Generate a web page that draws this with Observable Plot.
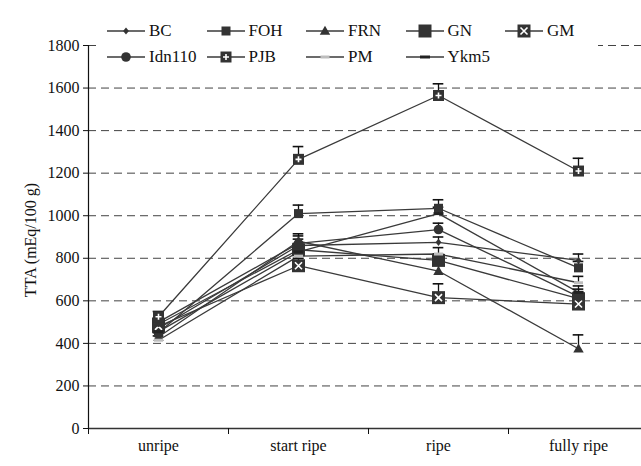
<!DOCTYPE html>
<html>
<head>
<meta charset="utf-8">
<script src="https://cdn.jsdelivr.net/npm/d3@7"></script>
<script src="https://cdn.jsdelivr.net/npm/@observablehq/plot@0.6"></script>
<style>
  body { margin: 0; background: #fff; }
  #wrap { position: relative; width: 641px; height: 466px; font-family: 'Liberation Serif', serif; }
  #wrap svg, #wrap svg text { font-family: 'Liberation Serif', serif !important; }
  #legend { position: absolute; left: 98px; top: 19px; width: 500px; height: 50px; background: #fff; }
  .item { position: absolute; display: flex; align-items: center; font-family: 'Liberation Serif', serif; font-size: 17px; color: #111; white-space: nowrap; }
  .item svg { display: block; margin-right: 3px; }
  #ylabel { position: absolute; left: 31px; top: 240px; font-family: 'Liberation Serif', serif; font-size: 16px; color: #111;
            transform: translate(-50%, -50%) rotate(-90deg); white-space: nowrap; }
</style>
</head>
<body>
<div id="wrap"><div id="legend"></div><div id="ylabel">TTA (mEq/100 g)</div></div>
<script>
// Ripening stages on the x axis
const stages = ["unripe", "start ripe", "ripe", "fully ripe"];
const cultivars = ["BC", "FOH", "FRN", "GN", "GM", "Idn110", "PJB", "PM", "Ykm5"];

// Titratable acidity (mEq/100 g) per cultivar, one value per stage
const ttaBC     = [470, 860, 875, 790];
const ttaFOH    = [450, 1010, 1035, 755];
const ttaFRN    = [430, 880, 740, 375];
const ttaGN     = [490, 840, 790, 610];
const ttaGM     = [480, 765, 615, 585];
const ttaIdn110 = [500, 870, 935, 620];
const ttaPJB    = [525, 1265, 1565, 1210];
const ttaPM     = [415, 810, 820, 685];
const ttaYkm5   = [455, 830, 1010, 640];

// Standard errors (upper whiskers)
const errBC     = [20, 30, 25, 30];
const errFOH    = [20, 40, 40, 30];
const errFRN    = [20, 35, 30, 65];
const errGN     = [20, 30, 30, 30];
const errGM     = [20, 35, 65, 30];
const errIdn110 = [20, 35, 30, 35];
const errPJB    = [25, 60, 55, 60];
const errPM     = [20, 30, 30, 30];
const errYkm5   = [20, 30, 30, 30];

const yTicks = [0, 200, 400, 600, 800, 1000, 1200, 1400, 1600, 1800];

const values = {BC: ttaBC, FOH: ttaFOH, FRN: ttaFRN, GN: ttaGN, GM: ttaGM, Idn110: ttaIdn110, PJB: ttaPJB, PM: ttaPM, Ykm5: ttaYkm5};
const errors = {BC: errBC, FOH: errFOH, FRN: errFRN, GN: errGN, GM: errGM, Idn110: errIdn110, PJB: errPJB, PM: errPM, Ykm5: errYkm5};

const data = cultivars.flatMap(c => stages.map((s, i) => ({
  cultivar: c, stage: s, x: i + 0.5, tta: values[c][i], top: values[c][i] + errors[c][i]
})));

// Marker shapes
const rectSym = (w, h) => ({draw(ctx) { ctx.rect(-w / 2, -h / 2, w, h); }});
const diamondSym = s => ({draw(ctx) { ctx.moveTo(0, -s); ctx.lineTo(s * 0.8, 0); ctx.lineTo(0, s); ctx.lineTo(-s * 0.8, 0); ctx.closePath(); }});
const triSym = s => ({draw(ctx) { ctx.moveTo(0, -s * 0.95); ctx.lineTo(s * 0.95, s * 0.7); ctx.lineTo(-s * 0.95, s * 0.7); ctx.closePath(); }});
const circSym = r => ({draw(ctx) { ctx.moveTo(r, 0); ctx.arc(0, 0, r, 0, 2 * Math.PI); }});
const crossSym = s => ({draw(ctx) { ctx.moveTo(-s, -s); ctx.lineTo(s, s); ctx.moveTo(s, -s); ctx.lineTo(-s, s); }});
const plusSym = s => ({draw(ctx) { ctx.moveTo(-s, 0); ctx.lineTo(s, 0); ctx.moveTo(0, -s); ctx.lineTo(0, s); }});

const ink = "#333";
const style = {
  BC:     [{symbol: diamondSym(3.6), fill: ink}],
  FOH:    [{symbol: rectSym(9, 9), fill: ink}],
  FRN:    [{symbol: triSym(5.5), fill: ink}],
  GN:     [{symbol: rectSym(13, 13), fill: ink}],
  GM:     [{symbol: rectSym(13, 13), fill: ink}, {symbol: crossSym(3.5), stroke: "#fff", strokeWidth: 1.6}],
  Idn110: [{symbol: circSym(4.8), fill: ink}],
  PJB:    [{symbol: rectSym(11, 11), fill: ink}, {symbol: plusSym(3), stroke: "#fff", strokeWidth: 1.6}],
  PM:     [{symbol: rectSym(9, 3), fill: "#bdbdbd"}],
  Ykm5:   [{symbol: rectSym(10, 3), fill: "#222"}]
};

const markerMarks = cultivars.flatMap(c => style[c].map(st =>
  Plot.dot(data.filter(d => d.cultivar === c), {x: "x", y: "tta", r: 5, ...st})
));

const chart = Plot.plot({
  width: 641,
  height: 466,
  marginLeft: 88,
  marginRight: 0,
  marginTop: 45,
  marginBottom: 38,
  style: {fontFamily: "'Liberation Serif', serif", fontSize: "16px", color: "#111", background: "#fff"},
  x: {domain: [0, 4], range: [88, 648]},
  y: {domain: [0, 1800], range: [428, 45]},
  marks: [
    // dashed gridlines
    Plot.ruleY(yTicks.filter(v => v > 0), {stroke: "#222", strokeWidth: 1, strokeDasharray: "8,5", strokeOpacity: 0.85}),
    // axes
    Plot.axisY({ticks: yTicks, tickSize: 5, tickPadding: 4, fontSize: 16, label: null, tickFormat: d => String(d)}),
    Plot.ruleX([0], {y1: 0, y2: 1800, stroke: "#111", strokeWidth: 1.2}),
    Plot.ruleY([0], {stroke: "#333", strokeWidth: 1.6}),
    Plot.axisX({ticks: [0, 1, 2, 3], tickSize: 6, tickFormat: () => "", label: null}),
    Plot.axisX({ticks: [0.5, 1.5, 2.5, 3.5], tickSize: 0, tickPadding: 11, fontSize: 16, label: null, tickFormat: d => stages[Math.floor(d)]}),
    // series lines
    Plot.line(data, {x: "x", y: "tta", z: "cultivar", stroke: "#3a3a3a", strokeWidth: 1.3}),
    // upper error whiskers
    Plot.ruleX(data, {x: "x", y1: "tta", y2: "top", stroke: "#111", strokeWidth: 1.3}),
    Plot.ruleY(data, {y: "top", x1: d => d.x - 0.038, x2: d => d.x + 0.038, stroke: "#111", strokeWidth: 1.6}),
    ...markerMarks
  ]
});
document.getElementById("wrap").prepend(chart);

// Legend
const legend = d3.select("#legend");
cultivars.forEach((c, i) => {
  const row = i < 5 ? 0 : 1;
  const col = i < 5 ? i : i - 5;
  const item = legend.append("div").attr("class", "item")
    .style("left", `${9 + col * 99.5}px`)
    .style("top", `${row === 0 ? 2 : 28}px`)
    .style("height", "20px");
  const svg = item.append("svg").attr("width", 39).attr("height", 20);
  svg.append("line").attr("x1", 0).attr("x2", 38).attr("y1", 10).attr("y2", 10).attr("stroke", "#3a3a3a").attr("stroke-width", 1.3);
  style[c].forEach(st => {
    svg.append("path")
      .attr("transform", "translate(19,10)")
      .attr("d", d3.symbol(st.symbol)())
      .attr("fill", st.fill || "none")
      .attr("stroke", st.stroke || "none")
      .attr("stroke-width", st.strokeWidth || 0);
  });
  item.append("span").text(c);
});
</script>
</body>
</html>
